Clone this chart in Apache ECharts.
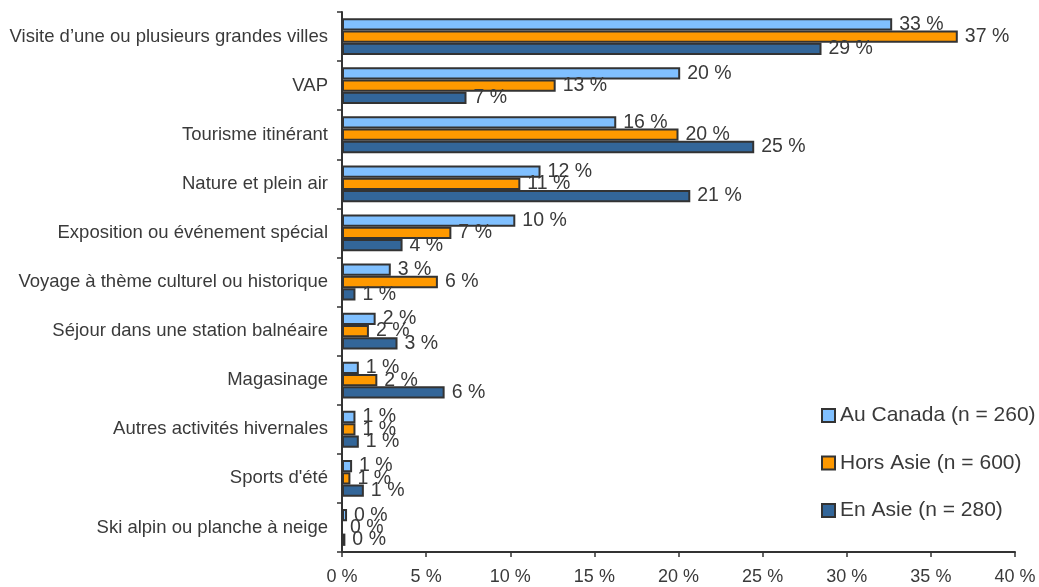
<!DOCTYPE html>
<html>
<head>
<meta charset="utf-8">
<script src="https://cdn.jsdelivr.net/npm/echarts@6/dist/echarts.min.js"></script>
<style>
  html, body { margin: 0; padding: 0; background: #fff; }
  #chart { width: 1039px; height: 587px; }
</style>
</head>
<body>
<div id="chart"></div>
<script>
// Types de voyage, par provenance des répondants (% des répondants)
const categories = [
  'Visite d\u2019une ou plusieurs grandes villes',
  'VAP',
  'Tourisme itinérant',
  'Nature et plein air',
  'Exposition ou événement spécial',
  'Voyage à thème culturel ou historique',
  'Séjour dans une station balnéaire',
  'Magasinage',
  'Autres activités hivernales',
  'Sports d\'été',
  'Ski alpin ou planche à neige'
];
const seriesNames = ['Au Canada (n = 260)', 'Hors Asie (n = 600)', 'En Asie (n = 280)'];
const auCanada = [32.7, 20.1, 16.3, 11.8, 10.3, 2.9, 2.0, 1.0, 0.8, 0.6, 0.3];
const horsAsie = [36.6, 12.7, 20.0, 10.6, 6.5, 5.7, 1.6, 2.1, 0.8, 0.5, 0.0];
const enAsie   = [28.5, 7.4, 24.5, 20.7, 3.6, 0.8, 3.3, 6.1, 1.0, 1.3, 0.2];
const colors = ['#80C0FF', '#FF9900', '#336699'];
const xTicks = { min: 0, max: 40, interval: 5 };

const FONT = '"Liberation Sans", Arial, sans-serif';
const TEXT = '#3a3a3a';
const chart = echarts.init(document.getElementById('chart'));

function barSeries(name, data, color) {
  return {
    name: name,
    type: 'bar',
    data: data,
    barGap: '0%',
    barCategoryGap: '25%',
    itemStyle: { color: color, borderColor: '#333', borderWidth: 2 },
    label: {
      show: true,
      position: 'right',
      distance: 7,
      color: TEXT,
      fontFamily: FONT,
      fontSize: 19.5,
      formatter: p => Math.round(p.value) + ' %'
    },
    animation: false
  };
}

chart.setOption({
  animation: false,
  grid: { left: 342, right: 24, top: 12, bottom: 35, containLabel: false },
  legend: {
    orient: 'vertical',
    left: 816,
    top: 400,
    itemGap: 26.5,
    itemWidth: 13,
    itemHeight: 13,
    icon: 'rect',
    textStyle: { fontFamily: FONT, fontSize: 21, lineHeight: 21, color: TEXT },
    data: seriesNames
  },
  xAxis: {
    type: 'value',
    min: xTicks.min,
    max: xTicks.max,
    interval: xTicks.interval,
    splitLine: { show: false },
    axisLine: { show: true, lineStyle: { color: '#333', width: 2 } },
    axisTick: { show: true, length: 5, lineStyle: { color: '#333', width: 1.5 } },
    axisLabel: { color: TEXT, fontFamily: FONT, fontSize: 18, margin: 16, formatter: v => v + ' %' }
  },
  yAxis: {
    type: 'category',
    data: categories,
    inverse: true,
    axisLine: { show: true, lineStyle: { color: '#333', width: 2 } },
    axisTick: { show: true, length: 5, lineStyle: { color: '#333', width: 1.5 } },
    axisLabel: { color: TEXT, fontFamily: FONT, fontSize: 18.5, margin: 14 }
  },
  series: [
    barSeries(seriesNames[0], auCanada, colors[0]),
    barSeries(seriesNames[1], horsAsie, colors[1]),
    barSeries(seriesNames[2], enAsie, colors[2])
  ]
});
</script>
</body>
</html>
